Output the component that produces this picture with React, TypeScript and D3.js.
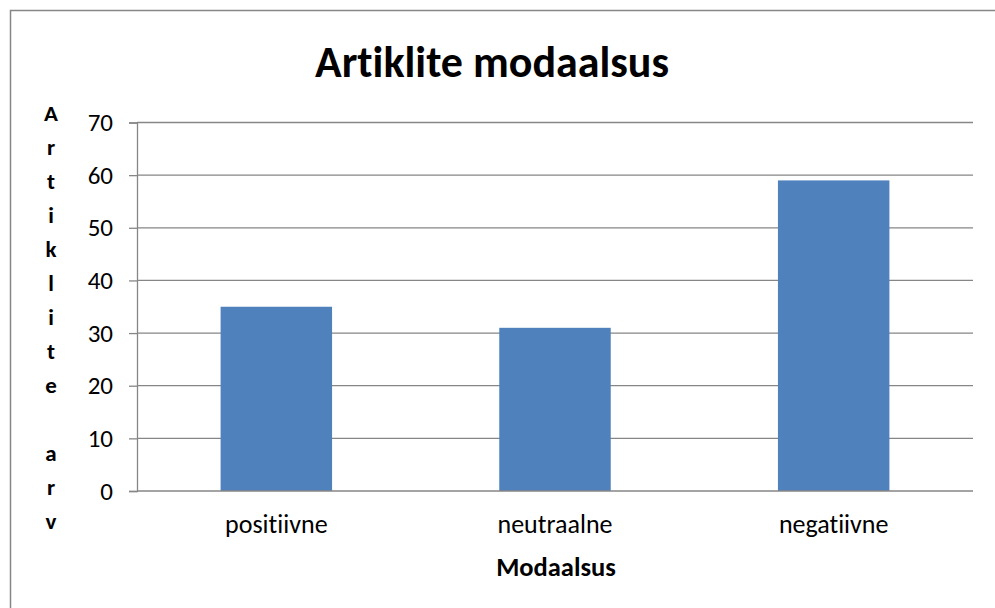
import React, { useEffect, useRef } from "react";
import * as d3 from "d3";

const categories = ["positiivne", "neutraalne", "negatiivne"];
const values = [35, 31, 59];
const yTicks = [0, 10, 20, 30, 40, 50, 60, 70];
const yTitleLetters = ["A", "r", "t", "i", "k", "l", "i", "t", "e", " ", "a", "r", "v"];

const App = () => {
  const ref = useRef<SVGSVGElement>(null);

  useEffect(() => {
    const width = 995;
    const height = 608;
    const font = "Carlito, Calibri, 'Open Sans', sans-serif";
    const gray = "#868686";

    const svg = d3.select(ref.current);
    svg.selectAll("*").remove();

    svg
      .append("rect")
      .attr("width", width)
      .attr("height", height)
      .attr("fill", "#fff");

    // chart frame
    svg
      .append("rect")
      .attr("x", 10.5)
      .attr("y", 10.5)
      .attr("width", width + 20)
      .attr("height", height + 20)
      .attr("fill", "none")
      .attr("stroke", gray)
      .attr("stroke-width", 1.5);

    const x = d3
      .scaleBand()
      .domain(categories)
      .range([137, 973])
      .paddingInner(0.6)
      .paddingOuter(0.3);

    const y = d3.scaleLinear().domain([0, 70]).range([491, 122.5]);

    // gridlines
    svg
      .selectAll("line.grid")
      .data(yTicks.filter((t) => t > 0))
      .join("line")
      .attr("class", "grid")
      .attr("x1", 137)
      .attr("x2", 973)
      .attr("y1", (d) => y(d))
      .attr("y2", (d) => y(d))
      .attr("stroke", gray)
      .attr("stroke-width", 1.3);

    // bars
    svg
      .selectAll("rect.bar")
      .data(values)
      .join("rect")
      .attr("class", "bar")
      .attr("x", (_, i) => x(categories[i]) as number)
      .attr("y", (d) => y(d))
      .attr("width", x.bandwidth())
      .attr("height", (d) => y(0) - y(d))
      .attr("fill", "#4F81BD");

    // y axis
    const yAxis = svg
      .append("g")
      .attr("transform", "translate(137,0)")
      .call(d3.axisLeft(y).tickValues(yTicks).tickSize(8).tickPadding(16));
    yAxis.select(".domain").attr("stroke", gray).attr("stroke-width", 1.3);
    yAxis.selectAll(".tick line").attr("stroke", gray).attr("stroke-width", 1.3);
    yAxis
      .selectAll(".tick text")
      .attr("fill", "#000")
      .style("font-family", font)
      .style("font-size", "25px");

    // x axis baseline
    svg
      .append("line")
      .attr("x1", 137)
      .attr("x2", 973)
      .attr("y1", y(0))
      .attr("y2", y(0))
      .attr("stroke", gray)
      .attr("stroke-width", 1.5);

    svg
      .selectAll("text.cat")
      .data(categories)
      .join("text")
      .attr("class", "cat")
      .attr("x", (d) => (x(d) as number) + x.bandwidth() / 2)
      .attr("y", 533)
      .attr("text-anchor", "middle")
      .style("font-family", font)
      .style("font-size", "26px")
      .style("font-variant-ligatures", "none")
      .text((d) => d);

    // title
    svg
      .append("text")
      .attr("x", 492)
      .attr("y", 77)
      .attr("text-anchor", "middle")
      .style("font-family", font)
      .style("font-size", "44px")
      .style("font-weight", "bold")
      .style("font-variant-ligatures", "none")
      .text("Artiklite modaalsus");

    // x axis title
    svg
      .append("text")
      .attr("x", 556)
      .attr("y", 576)
      .attr("text-anchor", "middle")
      .style("font-family", font)
      .style("font-size", "26.5px")
      .style("font-weight", "bold")
      .text("Modaalsus");

    // y axis title, stacked letters
    svg
      .selectAll("text.ytitle")
      .data(yTitleLetters)
      .join("text")
      .attr("class", "ytitle")
      .attr("x", 51)
      .attr("y", (_, i) => 121 + i * 34)
      .attr("text-anchor", "middle")
      .style("font-family", font)
      .style("font-size", "23px")
      .style("font-weight", "bold")
      .text((d) => d);
  }, []);

  return (
    <svg
      ref={ref}
      width={995}
      height={608}
      style={{ position: "absolute", left: 0, top: 0, display: "block" }}
    />
  );
};

export default App;
